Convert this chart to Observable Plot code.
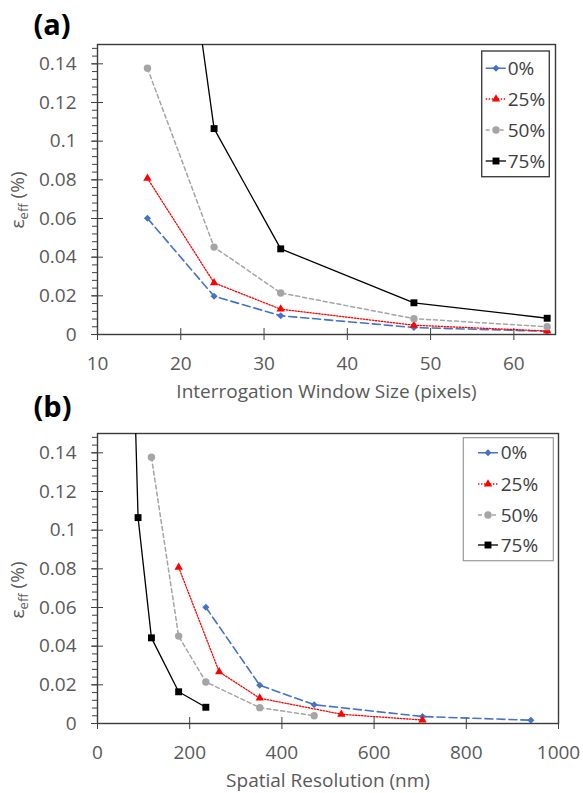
<!DOCTYPE html>
<html><head><meta charset="utf-8">
<script src="https://cdn.jsdelivr.net/npm/d3@7"></script>
<script src="https://cdn.jsdelivr.net/npm/@observablehq/plot@0.6"></script>
<style>
body{margin:0;background:#fff;}
#wrap{position:relative;width:583px;height:793px;background:#fff;}
#wrap svg{position:absolute;left:0;}
</style></head><body><div id="wrap"></div>
<script>
// ---- data ----
const seriesNames = ["0%", "25%", "50%", "75%"];
const windowSize = [16, 24, 32, 48, 64];
const eps0  = [0.0601, 0.0198, 0.0097, 0.0036, 0.0017];
const eps25 = [0.0808, 0.0267, 0.0131, 0.0048, 0.0018];
const eps50 = [0.1377, 0.0452, 0.0215, 0.0082, 0.0040];
const eps75 = [0.355, 0.1065, 0.0443, 0.0164, 0.0084];
const res0  = [235, 352, 470, 705, 940];
const res25 = [176, 264, 352, 529, 705];
const res50 = [117, 176, 235, 352, 470];
const res75 = [59, 88, 117, 176, 235];
const yTicks = [0, 0.02, 0.04, 0.06, 0.08, 0.1, 0.12, 0.14];
const yMinor = d3.range(0, 38).map(i => +(i * 0.004).toFixed(3));
const xTicksA = [10, 20, 30, 40, 50, 60];
const xTicksB = [0, 200, 400, 600, 800, 1000];

const epsBy = {"0%": eps0, "25%": eps25, "50%": eps50, "75%": eps75};
const resBy = {"0%": res0, "25%": res25, "50%": res50, "75%": res75};
const rows = seriesNames.flatMap(s => windowSize.map((w, i) => ({series: s, win: w, res: resBy[s][i], eps: epsBy[s][i]})));

// ---- styles ----
const sty = {
  "0%":  {color: "#4472C4", dash: "8,4",   width: 1.6, symbol: "diamond2", r: 3.2},
  "25%": {color: "#FF0000", dash: "1.4,1.6", width: 1.3, symbol: "triangle", r: 3.1},
  "50%": {color: "#A5A5A5", dash: "4,3",   width: 1.5, symbol: "circle",   r: 3.7},
  "75%": {color: "#000000", dash: null,    width: 1.3, symbol: "square",   r: 3.9}
};
const fmt = d => String(+d.toFixed(2));
const FONT = "'Open Sans', sans-serif";

function panel(o) {
  const marks = [
    Plot.frame({stroke: "#3a3a3a", strokeWidth: 1.4}),
    Plot.axisY({ticks: yMinor, tickSize: 5, fill: "none", stroke: "#404040", label: null}),
    Plot.axisY({ticks: yTicks, tickSize: 12, dx: 6, fill: "none", stroke: "#404040", label: null}),
    Plot.axisY({ticks: yTicks, tickSize: 0, tickPadding: 21, tickFormat: fmt, fill: "#595959", fontSize: 19, label: null}),
    Plot.axisX({ticks: o.xTicks, tickSize: 12, dy: -6, fill: "none", stroke: "#404040", label: null}),
    Plot.axisX({ticks: o.xTicks, tickSize: 0, tickPadding: 22, tickFormat: d => String(d), fill: "#595959", fontSize: 19, label: null}),
    Plot.text([o.xLabel], {frameAnchor: "bottom", lineAnchor: "middle", dy: o.xLabelDy, text: d => d, fontSize: 19, fill: "#595959"}),
    Plot.text([o.tag], {frameAnchor: "top-left", lineAnchor: "middle", dx: -64, dy: o.tagDy, text: d => d, textAnchor: "start", fontSize: 29, fontWeight: "bold", fill: "#000"})
  ];
  for (const s of seriesNames) {
    const d = rows.filter(r => r.series === s);
    const st = sty[s];
    marks.push(Plot.line(d, {x: o.xKey, y: "eps", stroke: st.color, strokeWidth: st.width, strokeDasharray: st.dash, clip: true}));
  }
  for (const s of seriesNames) {
    const d = rows.filter(r => r.series === s);
    const st = sty[s];
    marks.push(Plot.dot(d, {x: o.xKey, y: "eps", symbol: st.symbol, r: st.r, fill: st.color, stroke: "none", clip: true}));
  }
  const svg = Plot.plot({
    width: 583, height: o.height,
    marginTop: o.mt, marginBottom: o.mb, marginLeft: 97, marginRight: o.mr,
    x: {domain: o.xDomain},
    y: {domain: [0, 0.15]},
    style: {fontFamily: FONT, fontSize: "19px", background: "none", overflow: "visible", color: "#595959"},
    marks
  });
  const g = d3.select(svg);
  // y axis title with subscript
  const t = g.append("text")
    .attr("transform", `translate(24,${o.yLabelY}) rotate(-90)`)
    .attr("text-anchor", "middle").attr("fill", "#595959")
    .style("font-family", FONT).style("font-size", "19px");
  t.append("tspan").text("ε");
  t.append("tspan").attr("font-size", "13px").attr("dy", 4).text("eff");
  t.append("tspan").attr("dy", -4).text(" (%)");
  // legend
  const L = o.legend;
  g.append("rect").attr("x", L.x).attr("y", L.y).attr("width", L.w).attr("height", L.h)
    .attr("fill", "#fff").attr("stroke", L.stroke).attr("stroke-width", L.sw);
  seriesNames.forEach((s, i) => {
    const st = sty[s];
    const y = L.rows[i];
    g.append("line").attr("x1", L.lx[0]).attr("x2", L.lx[1]).attr("y1", y).attr("y2", y)
      .attr("stroke", st.color).attr("stroke-width", st.width)
      .attr("stroke-dasharray", st.dash);
    const sym = {diamond2: d3.symbolDiamond2, triangle: d3.symbolTriangle, circle: d3.symbolCircle, square: d3.symbolSquare}[st.symbol];
    g.append("path").attr("d", d3.symbol(sym, st.r * st.r * Math.PI)())
      .attr("transform", `translate(${L.mx},${y})`).attr("fill", st.color);
    g.append("text").attr("x", L.tx).attr("y", y).attr("dy", "0.35em")
      .attr("text-anchor", "start")
      .attr("fill", "#404040").style("font-family", FONT).style("font-size", "19px").text(s);
  });
  return svg;
}

const wrap = document.getElementById("wrap");
const a = panel({
  xKey: "win", xDomain: [10, 65], xTicks: xTicksA, height: 395, mt: 44, mb: 61, mr: 28,
  xLabel: "Interrogation Window Size (pixels)", xLabelDy: 57, tag: "(a)", tagDy: -19, yLabelY: 200,
  legend: {x: 481.7, y: 51, w: 67.6, h: 125.7, stroke: "#404040", sw: 1.4, rows: [68.3, 99, 130, 161], lx: [485.7, 506], mx: 496, tx: 507.7}
});
a.style.top = "0px";
const b = panel({
  xKey: "res", xDomain: [0, 1000], xTicks: xTicksB, height: 398, mt: 38, mb: 70, mr: 25,
  xLabel: "Spatial Resolution (nm)", xLabelDy: 57, tag: "(b)", tagDy: -26, yLabelY: 195,
  legend: {x: 463.3, y: 42.7, w: 90, h: 123, stroke: "#9a9a9a", sw: 1.2, rows: [57.7, 89, 120, 150], lx: [478, 498], mx: 488, tx: 500.7}
});
b.style.top = "395px";
wrap.appendChild(a);
wrap.appendChild(b);
</script></body></html>
